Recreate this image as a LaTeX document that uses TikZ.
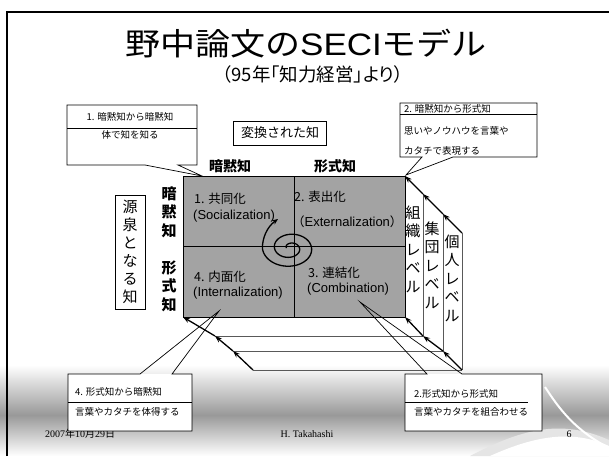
\documentclass[tikz,border=0pt]{standalone}
\usepackage{fontspec}
\setmainfont{Liberation Sans}
\newfontfamily\jp{Noto Sans CJK JP}
\newfontfamily\jpprop[CharacterWidth=AlternateProportional]{Noto Sans CJK JP}
\newfontfamily\serifla{Liberation Serif}
\usetikzlibrary{arrows.meta}
\definecolor{gridgray}{gray}{0.64}
\definecolor{levgray}{gray}{0.35}
\begin{document}
\begin{tikzpicture}[x=1pt,y=-1pt,
  cell/.style={anchor=west, inner sep=0, font=\jp\fontsize{12.5}{15}\selectfont},
  celllat/.style={anchor=west, inner sep=0, font=\fontsize{13}{15}\selectfont},
  hdr/.style={inner sep=0, font=\jp\bfseries\fontsize{14}{16}\selectfont},
  vtext/.style={inner sep=0, align=center, font=\jp\fontsize{15}{18.5}\selectfont},
  vbold/.style={inner sep=0, align=center, font=\jp\bfseries\fontsize{15}{18.5}\selectfont},
  boxfill/.style={fill=white, inner sep=0, outer sep=0, anchor=north west},
  cline/.style={line width=0.7pt},
  ctext/.style={inner sep=0, font=\jp\fontsize{9.5}{11}\selectfont},
  lvl/.style={draw=levgray, line width=0.6pt},
  diag/.style={line width=1.3pt, -{Stealth[length=7pt,width=5pt]}},
  foot/.style={inner sep=0, font=\serifla\fontsize{10}{12}\selectfont}
]
\useasboundingbox (0,0) rectangle (609,456);
% footer background
\shade[top color=white, bottom color=black!40] (0,365) rectangle (609,415);
\shade[top color=black!40, bottom color=white] (0,415) rectangle (609,456);
\fill[white!90!black] (470,456) .. controls (520,430) and (560,418) .. (609,440) -- (609,456) -- cycle;
\fill[white] (490,456) .. controls (530,438) and (570,428) .. (609,446) -- (609,456) -- cycle;
\draw[white, line width=2pt] (545,387) .. controls (560,410) and (575,430) .. (609,448);
% frame
\draw[line width=2pt] (7,456) -- (7,12) -- (609,12);
% title
\node[inner sep=0, font=\jp\fontsize{31}{34}\selectfont] (title) at (306,44)
  {\scalebox{1.13}[1]{野中論文の{\fontspec{Liberation Sans}SECI}モデル}};
\node[inner sep=0, font=\jpprop\fontsize{18.5}{22}\selectfont] (sub) at (313,74)
  {（95年「知力経営」より）};
% changed knowledge box
\node[draw, line width=0.7pt, minimum width=93pt, minimum height=24pt, inner sep=0,
  font=\jp\fontsize{13}{15}\selectfont] (conv) at (280,133) {変換された知};
% source box
\node[draw, line width=0.7pt, minimum width=30pt, minimum height=114pt, inner sep=0,
  align=center, font=\jp\fontsize{15}{18}\selectfont] (src) at (130,252)
  {源\\泉\\と\\な\\る\\知};
% left and top headers
\node[vbold] (lt) at (169,212) {暗\\黙\\知};
\node[vbold] (lf) at (169,286) {形\\式\\知};
\node[hdr] (ht) at (230,166) {暗黙知};
\node[hdr] (hf) at (335,166) {形式知};
% levels geometry
\coordinate (R1t) at (423,194); \coordinate (R2t) at (443,214); \coordinate (R3t) at (462,233);
\coordinate (R1b) at (423,336); \coordinate (R2b) at (443,351); \coordinate (R3b) at (462,370);
\coordinate (L1) at (215,336);  \coordinate (L2) at (233,351);  \coordinate (L3) at (253,370);
\draw[lvl] (R1t) -- (R1b) (R2t) -- (R2b) (R3t) -- (R3b);
\draw[lvl] (L1) -- (R1b) (L2) -- (R2b) (L3) -- (R3b);
% grid
\node[draw, line width=0.8pt, fill=gridgray, minimum width=222pt, minimum height=141pt,
  inner sep=0, outer sep=0, anchor=north west] (grid) at (183,176) {};
\draw[line width=0.8pt] (grid.north) -- (grid.south);
\draw[line width=0.8pt] (grid.west) -- (grid.east);
% diagonals with arrows
\draw[diag] (R1t) -- (grid.north east);
\draw[diag] (R2t) -- (R1t);
\draw[diag] (R3t) -- (R2t);
\draw[diag] (R1b) -- (grid.south east);
\draw[diag] (R2b) -- (R1b);
\draw[diag] (R3b) -- (R2b);
\draw[diag] (L1) -- (grid.south west);
\draw[diag] (L2) -- (L1);
\draw[diag] (L3) -- (L2);
% level labels
\node[vtext] (lv1) at (413,249) {組\\織\\レ\\ベ\\ル};
\node[vtext] (lv2) at (432,265) {集\\団\\レ\\ベ\\ル};
\node[vtext] (lv3) at (452,278) {個\\人\\レ\\ベ\\ル};
% cell texts
\node[cell] (s1) at (194,199) {1. 共同化};
\node[celllat] (s2) at (193,216) {(Socialization)};
\node[cell] (e1) at (294,197) {2. 表出化};
\node[cell] (e2) at (292,222) {（{\fontspec{Liberation Sans}\fontsize{13}{15}\selectfont Externalization}）};
\node[cell] (i1) at (194,277) {4. 内面化};
\node[celllat] (i2) at (193,293) {(Internalization)};
\node[cell] (c1t) at (308,273) {3. 連結化};
\node[celllat] (c2t) at (307,289) {(Combination)};
% spiral
\draw[line width=1.3pt, -{Stealth[length=6pt,width=5pt]}]
  plot[domain=0:720, samples=160, smooth]
  ({290+1.15*(3+21*\x/720)*cos(\x+180)}, {248+0.85*(3+21*\x/720)*sin(\x+180)})
  .. controls (262.4,238) and (267,227) .. (278,219);
% footer text
\node[foot, anchor=west] (date) at (45,434) {2007{\jp 年}10{\jp 月}29{\jp 日}};
\node[foot] (auth) at (307,434) {H. Takahashi};
\node[foot] (pg) at (569,434) {6};
% callout 1
\node[boxfill, minimum width=130pt, minimum height=60pt] (cb1) at (67,105) {};
\coordinate (a1) at (145,165); \coordinate (b1) at (178,165); \coordinate (t1) at (202,176);
\draw[cline] (a1) -- (t1) -- (b1) -- (cb1.south east) -- (cb1.north east) -- (cb1.north west) -- (cb1.south west) -- cycle;
\draw[cline] (cb1.west |- 0,128) -- (cb1.east |- 0,128);
\node[ctext] (cb1a) at (130,117) {1. 暗黙知から暗黙知};
\node[ctext] (cb1b) at (130,135) {体で知を知る};
% callout 2
\node[boxfill, minimum width=137pt, minimum height=54pt] (cb2) at (400,103) {};
\coordinate (a2) at (422,157); \coordinate (b2) at (453,157); \coordinate (t2) at (406,175);
\draw[cline] (a2) -- (t2) -- (b2) -- (cb2.south east) -- (cb2.north east) -- (cb2.north west) -- (cb2.south west) -- cycle;
\draw[cline] (cb2.west |- 0,114.5) -- (cb2.east |- 0,114.5);
\node[ctext, anchor=west] (cb2a) at (404,109) {2. 暗黙知から形式知};
\node[ctext, anchor=west] (cb2b) at (404,131) {思いやノウハウを言葉や};
\node[ctext, anchor=west] (cb2c) at (404,151) {カタチで表現する};
% callout 4
\node[boxfill, minimum width=124pt, minimum height=57pt] (cb4) at (68,374) {};
\coordinate (a4) at (140,374); \coordinate (b4) at (172,374); \coordinate (t4) at (219,311);
\draw[cline] (a4) -- (t4) -- (b4) -- (cb4.north east) -- (cb4.south east) -- (cb4.south west) -- (cb4.north west) -- cycle;
\draw[cline] (cb4.west |- 0,402) -- (cb4.east |- 0,402);
\node[ctext, anchor=west] (cb4a) at (75,392) {4. 形式知から暗黙知};
\node[ctext, anchor=west] (cb4b) at (75,412) {言葉やカタチを体得する};
% callout 3
\node[boxfill, minimum width=137pt, minimum height=57pt] (cb3) at (405,374) {};
\coordinate (a3) at (427,374); \coordinate (b3) at (462,374); \coordinate (t3) at (360,302);
\draw[cline] (a3) -- (t3) -- (b3) -- (cb3.north east) -- (cb3.south east) -- (cb3.south west) -- (cb3.north west) -- cycle;
\draw[cline] (cb3.west |- 0,402) -- (528,402);
\node[ctext, anchor=west] (cb3a) at (414,394) {2.形式知から形式知};
\node[ctext, anchor=west] (cb3b) at (414,412) {言葉やカタチを組合わせる};
\end{tikzpicture}
\end{document}
